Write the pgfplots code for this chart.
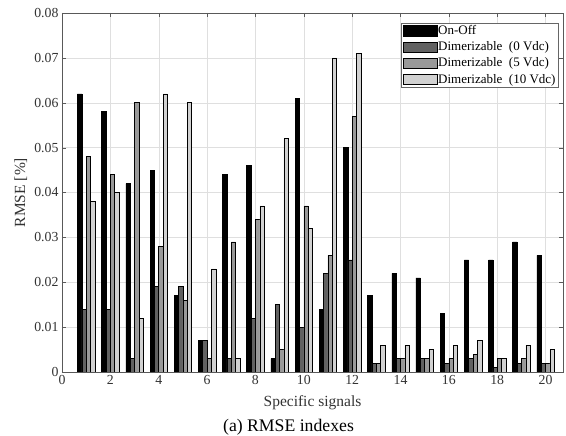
\documentclass[border=0pt]{standalone}
\usepackage{pgfplots}
\pgfplotsset{compat=1.18}
\usepackage{fontspec}
\setmainfont{Liberation Serif}
\definecolor{cA}{gray}{0.0}
\definecolor{cB}{gray}{0.38}
\definecolor{cC}{gray}{0.60}
\definecolor{cD}{gray}{0.82}
\begin{document}
\begin{tikzpicture}
\path[use as bounding box] (-62pt,-64pt) rectangle (504pt,372pt);
\begin{axis}[
  at={(0,0)}, anchor=south west,
  scale only axis, width=501pt, height=359pt,
  xmin=0, xmax=20.72, ymin=0, ymax=0.08,
  xtick={0,2,...,20},
  ytick={0,0.01,...,0.08},
  scaled y ticks=false,
  yticklabel style={/pgf/number format/fixed,/pgf/number format/precision=2},
  /pgf/number format/assume math mode=true,
  tick label style={font=\fontsize{13.8}{15}\selectfont, text=black!80},
  label style={font=\fontsize{15.5}{17}\selectfont, text=black!80},
  xlabel={Specific signals}, ylabel={RMSE [\%]},
  xlabel style={at={(axis description cs:0.5,-0.0864)}, anchor=center},
  ylabel style={at={(axis description cs:-0.0824,0.5)}, anchor=center},
  grid=major, major grid style={draw=gray!25, line width=0.4pt},
  tick align=inside, major tick length=4pt,
  axis line style={draw=black!65},
  tick style={draw=black!65},
  every axis plot/.append style={ybar, bar width=0.18, draw=black, line width=0.5pt},
  legend style={at={(0.990,0.972)}, anchor=north east, draw=black!60, fill=white,
    font=\fontsize{13}{15}\selectfont, inner sep=1.5pt, row sep=4pt,
    nodes={inner sep=0.8pt}, cells={anchor=west}},
  legend image code/.code={\draw[#1, bar shift=0pt] (0pt,-5.3pt) rectangle (34pt,5.3pt);},
]
\addplot[fill=cA, bar shift=-0.27] coordinates {
(1,0.062) (2,0.058) (3,0.042) (4,0.045) (5,0.017) (6,0.007) (7,0.044) (8,0.046) (9,0.003) (10,0.061)
(11,0.014) (12,0.050) (13,0.017) (14,0.022) (15,0.021) (16,0.013) (17,0.025) (18,0.025) (19,0.029) (20,0.026)};
\addplot[fill=cB, bar shift=-0.09] coordinates {
(1,0.014) (2,0.014) (3,0.003) (4,0.019) (5,0.019) (6,0.007) (7,0.003) (8,0.012) (9,0.015) (10,0.010)
(11,0.022) (12,0.025) (13,0.002) (14,0.003) (15,0.003) (16,0.002) (17,0.003) (18,0.001) (19,0.002) (20,0.002)};
\addplot[fill=cC, bar shift=0.09] coordinates {
(1,0.048) (2,0.044) (3,0.060) (4,0.028) (5,0.016) (6,0.003) (7,0.029) (8,0.034) (9,0.005) (10,0.037)
(11,0.026) (12,0.057) (13,0.002) (14,0.003) (15,0.003) (16,0.003) (17,0.004) (18,0.003) (19,0.003) (20,0.002)};
\addplot[fill=cD, bar shift=0.27] coordinates {
(1,0.038) (2,0.040) (3,0.012) (4,0.062) (5,0.060) (6,0.023) (7,0.003) (8,0.037) (9,0.052) (10,0.032)
(11,0.070) (12,0.071) (13,0.006) (14,0.006) (15,0.005) (16,0.006) (17,0.007) (18,0.003) (19,0.006) (20,0.005)};
\legend{On-Off, Dimerizable\ \ (0 Vdc), Dimerizable\ \ (5 Vdc), Dimerizable\ \ (10 Vdc)}
\end{axis}
\node[font=\fontsize{17.7}{20}\selectfont, anchor=base] at (226.5pt,-60pt) {(a) RMSE indexes};
\end{tikzpicture}
\end{document}
